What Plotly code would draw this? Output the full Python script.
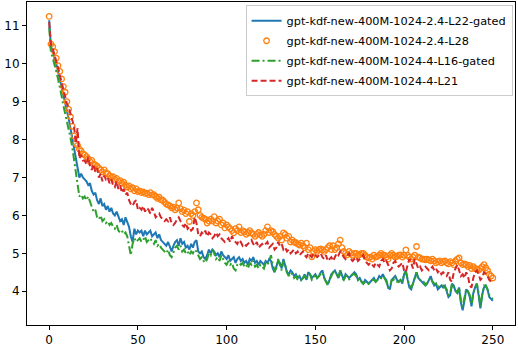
import plotly.graph_objects as go

# training steps 0..250
steps = list(range(251))

# gpt-kdf-new-400M-1024-2.4-L22-gated
loss_l22_gated = [
    11.15,
    10.45, 10.35, 10.2, 10.0, 9.8, 9.6, 9.4, 9.15, 8.95, 8.75,
    8.55, 8.3, 8.05, 7.8, 7.5, 7.2, 7.0, 7.1, 7.0, 6.95,
    6.9, 6.8, 6.85, 6.65, 6.55, 6.6, 6.4, 6.3, 6.45, 6.25,
    6.3, 6.15, 6.25, 6.1, 6.2, 6.05, 6.0, 6.1, 5.95, 5.85,
    5.9, 5.75, 5.95, 5.8, 5.7, 5.45, 5.3, 5.65, 5.5, 5.6,
    5.55, 5.6, 5.45, 5.6, 5.5, 5.55, 5.6, 5.45, 5.5, 5.55,
    5.4, 5.5, 5.35, 5.3, 5.25, 5.2, 5.3, 5.15, 5.05, 5.2,
    5.3, 5.35, 5.2, 5.4, 5.25, 5.3, 5.15, 5.2, 5.1, 5.25,
    5.15, 5.3, 5.35, 5.05, 5.0, 5.05, 4.9, 4.85, 4.95, 5.1,
    5.0, 5.1, 5.05, 4.95, 5.0, 4.9, 5.05, 4.95, 4.9, 4.85,
    4.95, 4.8, 4.85, 4.9, 4.75, 4.85, 4.9, 4.8, 4.85, 4.75,
    4.8, 4.7, 4.85, 4.8, 4.9, 4.75, 4.8, 4.7, 4.8, 4.75,
    4.7, 4.8, 4.75, 4.85, 4.8, 4.6, 4.5, 4.65, 4.8, 4.75,
    4.6, 4.85, 4.7, 4.5, 4.45, 4.55, 4.5, 4.4, 4.45, 4.35,
    4.4, 4.3, 4.35, 4.45, 4.3, 4.5, 4.45, 4.35, 4.4, 4.45,
    4.35, 4.4, 4.5, 4.55, 4.35, 4.25, 4.2, 4.3, 4.45, 4.5,
    4.55, 4.45, 4.35, 4.55, 4.4, 4.3, 4.45, 4.4, 4.35, 4.4,
    4.45, 4.5, 4.45, 4.3, 4.35, 4.25, 4.2, 4.3, 4.25, 4.2,
    4.25, 4.3, 4.35, 4.25, 4.3, 4.4, 4.35, 4.45, 4.35, 4.3,
    4.1, 4.05, 4.3, 4.35, 4.4, 4.3, 4.25, 4.3, 4.2, 4.45,
    4.55, 4.3, 4.1, 4.05, 4.2, 4.4, 4.5, 4.35, 4.3, 4.25,
    4.2, 4.15, 4.2, 4.3, 4.4, 4.25, 4.15, 4.2, 4.05, 4.1,
    4.15, 4.1, 4.15, 4.0, 3.85, 3.9, 4.2, 4.15, 4.0, 3.95,
    4.1, 3.7, 3.5, 3.75, 4.05, 4.0, 3.85, 3.6, 3.95, 4.1,
    4.2, 3.9, 3.55, 3.9, 4.1, 4.15, 4.05, 3.85, 3.8, 3.75,
]

# gpt-kdf-new-400M-1024-2.4-L28
loss_l28 = [
    11.25,
    10.52, 10.45, 10.32, 10.15, 9.95, 9.8, 9.6, 9.4, 9.25, 9.0,
    8.8, 8.6, 8.35, 8.1, 7.9, 7.85, 7.75, 7.7, 7.62, 7.6,
    7.55, 7.5, 7.42, 7.45, 7.35, 7.33, 7.3, 7.25, 7.2, 7.15,
    7.2, 7.12, 7.1, 7.05, 7.0, 7.02, 6.95, 6.98, 6.9, 6.92,
    6.85, 6.88, 6.8, 6.75, 6.78, 6.7, 6.73, 6.65, 6.7, 6.63,
    6.65, 6.6, 6.62, 6.58, 6.59, 6.55, 6.6, 6.54, 6.55, 6.5,
    6.45, 6.48, 6.41, 6.4, 6.35, 6.3, 6.28, 6.25, 6.2, 6.22,
    6.15, 6.2, 6.33, 6.18, 6.1, 6.14, 6.05, 6.1, 5.84, 6.05,
    6.0, 6.1, 6.33, 6.15, 6.0, 5.95, 5.93, 5.9, 5.8, 5.85,
    5.9, 5.85, 5.97, 5.8, 5.85, 5.9, 5.75, 5.8, 5.67, 5.75,
    5.7, 5.65, 5.6, 5.54, 5.65, 5.6, 5.7, 5.55, 5.6, 5.57,
    5.5, 5.55, 5.6, 5.54, 5.5, 5.45, 5.5, 5.55, 5.49, 5.45,
    5.5, 5.6, 5.7, 5.55, 5.6, 5.57, 5.5, 5.45, 5.4, 5.45,
    5.35, 5.54, 5.5, 5.4, 5.45, 5.3, 5.35, 5.3, 5.28, 5.25,
    5.22, 5.27, 5.2, 5.15, 5.27, 5.1, 5.15, 4.91, 5.05, 5.1,
    5.05, 5.1, 5.12, 5.09, 5.05, 5.1, 5.15, 5.2, 5.1, 5.2,
    5.1, 5.15, 5.25, 5.35, 5.15, 5.05, 5.0, 4.96, 5.05, 5.0,
    4.95, 5.0, 5.0, 4.95, 4.97, 5.0, 5.0, 4.95, 4.9, 4.88,
    4.9, 4.85, 4.95, 4.9, 4.92, 4.95, 5.0, 4.96, 4.95, 4.9,
    4.85, 4.95, 5.0, 4.95, 4.9, 4.92, 4.95, 4.96, 4.9, 4.95,
    5.09, 4.95, 4.9, 4.85, 4.9, 4.95, 5.18, 4.9, 4.88, 4.85,
    4.85, 4.83, 4.85, 4.83, 4.8, 4.85, 4.8, 4.75, 4.78, 4.8,
    4.75, 4.78, 4.8, 4.75, 4.72, 4.78, 4.75, 4.7, 4.8, 4.85,
    4.88, 4.75, 4.7, 4.72, 4.7, 4.65, 4.68, 4.6, 4.65, 4.6,
    4.58, 4.56, 4.6, 4.65, 4.7, 4.62, 4.55, 4.45, 4.4, 4.35,
]

# gpt-kdf-new-400M-1024-4-L16-gated
loss_l16_gated = [
    10.95,
    10.3, 10.15, 10.0, 9.8, 9.6, 9.4, 9.15, 8.9, 8.7, 8.5,
    8.3, 8.05, 7.8, 7.5, 7.15, 6.8, 6.5, 6.55, 6.45, 6.5,
    6.4, 6.5, 6.35, 6.2, 6.1, 6.15, 5.95, 5.9, 6.0, 5.85,
    5.9, 5.8, 5.85, 5.75, 5.8, 5.7, 5.65, 5.75, 5.6, 5.55,
    5.6, 5.5, 5.55, 5.45, 5.2, 4.95, 5.25, 5.4, 5.3, 5.35,
    5.4, 5.3, 5.35, 5.45, 5.3, 5.35, 5.4, 5.3, 5.25, 5.35,
    5.2, 5.25, 5.15, 5.1, 5.05, 5.0, 5.1, 4.95, 4.9, 5.05,
    5.15, 5.2, 5.1, 5.2, 5.05, 5.1, 5.0, 5.05, 4.95, 5.05,
    5.0, 5.1, 5.05, 4.95, 4.85, 4.9, 4.8, 4.75, 4.85, 5.0,
    4.95, 5.1, 5.0, 4.85, 4.9, 4.8, 4.95, 4.85, 4.75, 4.7,
    4.8, 4.7, 4.75, 4.6, 4.55, 4.7, 4.75, 4.7, 4.75, 4.65,
    4.7, 4.6, 4.75, 4.7, 4.8, 4.65, 4.7, 4.6, 4.7, 4.65,
    4.6, 4.75, 4.7, 4.8, 4.95, 4.7, 4.55, 4.6, 4.85, 4.7,
    4.55, 4.8, 4.7, 4.5, 4.4, 4.5, 4.45, 4.35, 4.4, 4.3,
    4.4, 4.3, 4.35, 4.4, 4.3, 4.45, 4.45, 4.3, 4.35, 4.45,
    4.35, 4.4, 4.45, 4.5, 4.35, 4.25, 4.15, 4.3, 4.4, 4.5,
    4.5, 4.45, 4.35, 4.55, 4.35, 4.3, 4.4, 4.4, 4.3, 4.4,
    4.45, 4.45, 4.4, 4.3, 4.35, 4.25, 4.2, 4.25, 4.25, 4.2,
    4.25, 4.3, 4.3, 4.25, 4.3, 4.35, 4.35, 4.4, 4.35, 4.25,
    4.1, 4.1, 4.3, 4.3, 4.4, 4.25, 4.25, 4.3, 4.25, 4.45,
    4.5, 4.3, 4.15, 4.1, 4.2, 4.35, 4.5, 4.3, 4.3, 4.25,
    4.25, 4.15, 4.25, 4.3, 4.35, 4.25, 4.2, 4.2, 4.1, 4.15,
    4.15, 4.15, 4.1, 4.05, 3.9, 3.95, 4.2, 4.1, 4.05, 3.95,
    4.1, 3.75, 3.6, 3.8, 4.05, 4.0, 3.9, 3.65, 3.95, 4.1,
    4.2, 3.95, 3.6, 3.9, 4.15, 4.15, 4.05, 3.9, 3.85, 3.8,
]

# gpt-kdf-new-400M-1024-4-L21
loss_l21 = [
    11.1,
    10.5, 10.4, 10.25, 10.1, 9.9, 9.7, 9.5, 9.3, 9.1, 8.95,
    8.85, 8.7, 8.55, 8.35, 7.9, 8.3, 7.5, 7.6, 7.45, 7.45,
    7.35, 7.55, 7.3, 7.2, 7.35, 7.15, 7.25, 7.0, 7.1, 6.9,
    7.05, 6.95, 7.0, 6.85, 6.95, 6.8, 6.75, 6.9, 6.7, 6.8,
    6.6, 6.7, 6.55, 6.6, 6.4, 6.3, 6.25, 6.35, 6.4, 6.15,
    6.2, 6.15, 6.25, 6.1, 6.2, 6.15, 6.05, 6.2, 6.1, 5.95,
    6.0, 6.05, 5.95, 5.9, 5.85, 5.9, 5.85, 5.95, 5.8, 5.75,
    5.8, 5.9, 5.95, 5.85, 5.75, 5.7, 5.8, 5.65, 5.7, 5.6,
    5.65, 5.95, 5.8, 5.5, 5.45, 5.55, 5.5, 5.6, 5.45, 5.55,
    5.5, 5.4, 5.45, 5.55, 5.45, 5.5, 5.4, 5.35, 5.3, 5.35,
    5.4, 5.3, 5.45, 5.35, 5.3, 5.25, 5.35, 5.3, 5.2, 5.25,
    5.2, 5.25, 5.3, 5.35, 5.25, 5.2, 5.3, 5.15, 5.2, 5.25,
    5.2, 5.25, 5.3, 5.15, 5.2, 5.25, 5.1, 5.15, 5.3, 5.2,
    5.25, 5.1, 5.15, 5.05, 5.1, 5.0, 5.05, 5.1, 5.0, 5.05,
    4.95, 5.0, 5.05, 4.95, 4.9, 5.0, 4.95, 4.9, 5.0, 4.95,
    4.9, 4.95, 5.0, 4.9, 4.85, 4.95, 4.8, 4.85, 4.9, 4.8,
    4.9, 5.0, 4.95, 5.05, 5.0, 4.9, 4.85, 4.95, 5.0, 4.85,
    4.8, 4.85, 4.9, 4.8, 4.85, 4.9, 4.95, 4.8, 4.75, 4.7,
    4.75, 4.7, 4.65, 4.75, 4.7, 4.65, 4.8, 4.85, 4.75, 4.8,
    4.7, 4.55, 4.6, 4.75, 4.8, 4.7, 4.65, 4.7, 4.75, 4.55,
    4.5, 4.7, 4.85, 4.75, 4.6, 4.85, 4.7, 4.6, 4.65, 4.55,
    4.6, 4.65, 4.6, 4.55, 4.6, 4.65, 4.55, 4.6, 4.5, 4.55,
    4.45, 4.5, 4.45, 4.4, 4.5, 4.3, 4.25, 4.5, 4.6, 4.7,
    4.55, 4.4, 4.45, 4.35, 4.5, 4.4, 4.15, 4.1, 4.35, 4.5,
    4.55, 4.45, 4.3, 4.35, 4.5, 4.45, 4.4, 4.3, 4.25, 4.2,
]

FONT = "DejaVu Sans"

fig = go.Figure()

fig.add_trace(go.Scatter(
    x=steps, y=loss_l22_gated, mode="lines", legendgroup="a",
    line=dict(color="#1f77b4", width=2),
    name="gpt-kdf-new-400M-1024-2.4-L22-gated",
))
fig.add_trace(go.Scatter(
    x=steps, y=loss_l28, mode="markers", legendgroup="b",
    marker=dict(symbol="circle-open", size=5.5, color="#ff7f0e",
                line=dict(width=1.3, color="#ff7f0e")),
    name="gpt-kdf-new-400M-1024-2.4-L28",
))
fig.add_trace(go.Scatter(
    x=steps, y=loss_l16_gated, mode="lines", legendgroup="c",
    line=dict(color="#2ca02c", width=2, dash="8px,3px,2px,3px"),
    name="gpt-kdf-new-400M-1024-4-L16-gated",
))
fig.add_trace(go.Scatter(
    x=steps, y=loss_l21, mode="lines", legendgroup="d",
    line=dict(color="#d62728", width=2, dash="6px,3px"),
    name="gpt-kdf-new-400M-1024-4-L21",
))

axis_style = dict(
    showgrid=False, zeroline=False, showline=True, linecolor="black",
    linewidth=1, mirror=True, ticks="outside", ticklen=4, tickcolor="black",
    tickfont=dict(family=FONT, size=12, color="black"), automargin=False,
)

fig.update_xaxes(range=[-12.5, 262.5], tickvals=[0, 50, 100, 150, 200, 250],
                 **axis_style)
fig.update_yaxes(range=[3.11, 11.63], tickvals=[4, 5, 6, 7, 8, 9, 10, 11],
                 **axis_style)

fig.update_layout(
    width=518, height=348,
    margin=dict(l=27, r=3, t=2, b=23),
    plot_bgcolor="white", paper_bgcolor="white",
    font=dict(family=FONT, size=12, color="black"),
    showlegend=True,
    legend=dict(
        x=0.995, y=0.99, xanchor="right", yanchor="top",
        traceorder="grouped", tracegroupgap=1,
        bgcolor="rgba(255,255,255,0.8)", bordercolor="#cccccc", borderwidth=1,
        font=dict(family=FONT, size=11.3, color="black"),
    ),
)

# the page body has a default 8px margin; drop it so the figure sits at 0,0
fig.write_html("out.html", config={"displayModeBar": False},
               post_script="document.body.style.margin='0';")
